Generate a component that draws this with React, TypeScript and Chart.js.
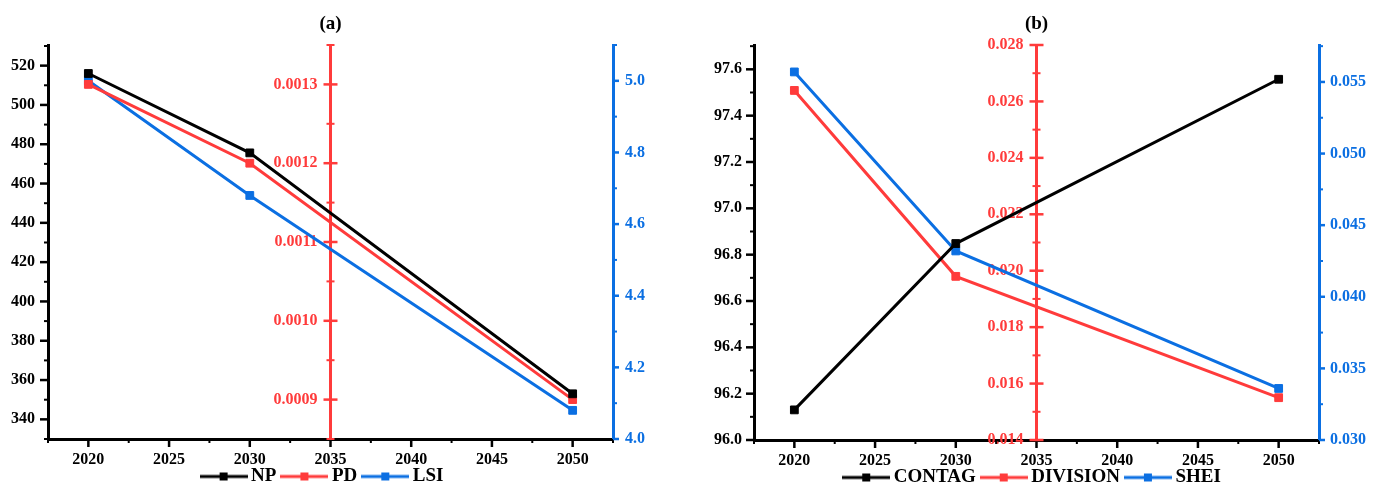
import React, { useEffect, useRef } from 'react';
import { Chart, registerables } from 'chart.js';

Chart.register(...registerables);

const FONT = "'Liberation Serif', 'Times New Roman', serif";
const BLACK = '#000000';
const RED = '#FF3B3B';
const BLUE = '#0B6FE2';

// ---------- data ----------
const years = [2020, 2030, 2050];
const xTicks = [2020, 2025, 2030, 2035, 2040, 2045, 2050];

// panel (a)
const npValues = [516, 475.6, 353];
const pdValues = [0.0013, 0.0012, 0.0009];
const lsiValues = [5.0, 4.68, 4.08];
const npTicks = [340, 360, 380, 400, 420, 440, 460, 480, 500, 520];
const pdTicks = [0.0009, 0.001, 0.0011, 0.0012, 0.0013];
const lsiTicks = [4.0, 4.2, 4.4, 4.6, 4.8, 5.0];

// panel (b)
const contagValues = [96.13, 96.848, 97.557];
const divisionValues = [0.02639, 0.0198, 0.0155];
const sheiValues = [0.0557, 0.0432, 0.0336];
const contagTicks = [96.0, 96.2, 96.4, 96.6, 96.8, 97.0, 97.2, 97.4, 97.6];
const divisionTicks = [0.014, 0.016, 0.018, 0.02, 0.022, 0.024, 0.026, 0.028];
const sheiTicks = [0.03, 0.035, 0.04, 0.045, 0.05, 0.055];

type AxisSpec = {
  min: number;
  max: number;
  ticks: number[];
  decimals: number;
  major: number;
  minor: number;
  padding: number;
};

type PanelSpec = {
  title: string;
  labels: string[];
  series: number[][];
  left: AxisSpec;
  red: AxisSpec;
  blue: AxisSpec;
  leftWidth: number;
  rightWidth: number;
  height: number;
  legendShift: number;
};

const panelA: PanelSpec = {
  title: '(a)',
  labels: ['NP', 'PD', 'LSI'],
  series: [npValues, pdValues, lsiValues],
  left: { min: 330, max: 530.5, ticks: npTicks, decimals: 0, major: 20, minor: 10, padding: 13 },
  red: { min: 0.00085, max: 0.00135, ticks: pdTicks, decimals: 4, major: 0.0001, minor: 0.00005, padding: 13 },
  blue: { min: 4.0, max: 5.1, ticks: lsiTicks, decimals: 1, major: 0.2, minor: 0.1, padding: 12 },
  leftWidth: 48,
  rightWidth: 79,
  height: 496,
  legendShift: -6,
};

const panelB: PanelSpec = {
  title: '(b)',
  labels: ['CONTAG', 'DIVISION', 'SHEI'],
  series: [contagValues, divisionValues, sheiValues],
  left: { min: 96.0, max: 97.705, ticks: contagTicks, decimals: 1, major: 0.2, minor: 0.1, padding: 12 },
  red: { min: 0.014, max: 0.028, ticks: divisionTicks, decimals: 3, major: 0.002, minor: 0.001, padding: 13 },
  blue: { min: 0.03, max: 0.05758, ticks: sheiTicks, decimals: 3, major: 0.005, minor: 0.0025, padding: 11 },
  leftWidth: 62,
  rightWidth: 65,
  height: 497,
  legendShift: -2,
};

const COLORS = [BLACK, RED, BLUE];
const AXIS_IDS = ['y', 'yRed', 'yBlue'];

function legendIcon(color: string) {
  const c = document.createElement('canvas');
  c.width = 48;
  c.height = 12;
  const g = c.getContext('2d')!;
  g.strokeStyle = color;
  g.lineWidth = 3;
  g.beginPath();
  g.moveTo(0, 6);
  g.lineTo(48, 6);
  g.stroke();
  g.fillStyle = color;
  g.fillRect(20, 2, 8, 8);
  return c;
}

type TickMarkSpec = {
  id: string;
  major: number;
  minor: number;
  majorLen: number;
  minorLen: number;
  mode: 'left' | 'right' | 'down' | 'cross';
  color: string;
  crossAt?: number;
};

function tickPlugin(specs: TickMarkSpec[]) {
  return {
    id: 'tickMarks',
    beforeDatasetsDraw(chart: any) {
      const ctx = chart.ctx;
      for (const s of specs) {
        const sc = chart.scales[s.id];
        if (!sc) continue;
        const ratio = Math.round(s.major / s.minor);
        const k0 = Math.ceil(sc.min / s.minor - 1e-6);
        const k1 = Math.floor(sc.max / s.minor + 1e-6);
        ctx.save();
        ctx.strokeStyle = s.color;
        for (let k = k0; k <= k1; k++) {
          const isMajor = k % ratio === 0;
          const len = isMajor ? s.majorLen : s.minorLen;
          ctx.lineWidth = isMajor ? 2.5 : 2;
          const p = sc.getPixelForValue(k * s.minor);
          ctx.beginPath();
          if (s.mode === 'down') {
            const y0 = sc.top;
            ctx.moveTo(p, y0);
            ctx.lineTo(p, y0 + len);
          } else if (s.mode === 'left') {
            const x0 = sc.right;
            ctx.moveTo(x0 - len, p);
            ctx.lineTo(x0, p);
          } else if (s.mode === 'right') {
            const x0 = sc.left;
            ctx.moveTo(x0, p);
            ctx.lineTo(x0 + len, p);
          } else {
            const x0 = chart.scales.x.getPixelForValue(s.crossAt);
            ctx.moveTo(x0 - len, p);
            ctx.lineTo(x0 + len, p);
          }
          ctx.stroke();
        }
        ctx.restore();
      }
    },
  };
}

function legendShiftPlugin(dx: number) {
  return {
    id: 'legendShift',
    afterLayout(chart: any) {
      const lg = chart.legend;
      if (lg && dx) {
        lg.left += dx;
        lg.right += dx;
      }
    },
  };
}

const tickFont = { family: FONT, size: 16, weight: 'bold' as const };

// shift the labels of an axis placed at a data value (Chart.js draws them flush with the axis line)
function shiftLabels(scale: any, dx: number) {
  if (scale.__shifted) return;
  scale.__shifted = true;
  const orig = scale._computeLabelItems.bind(scale);
  scale._computeLabelItems = (area: any) => {
    const items = orig(area);
    items.forEach((it: any) => {
      it.options.translation = [it.options.translation[0] - dx, it.options.translation[1]];
    });
    return items;
  };
}

function noLabelClip(scale: any) {
  if (scale.__noclip) return;
  scale.__noclip = true;
  scale._computeLabelArea = () => undefined;
}

function yAxis(a: AxisSpec, color: string, position: any, width?: number) {
  const floating = typeof position === 'object';
  return {
    type: 'linear',
    position,
    min: a.min,
    max: a.max,
    bounds: 'data',
    grid: { display: true, drawOnChartArea: false, drawTicks: false },
    border: { display: true, color, width: 3 },
    ticks: {
      color,
      font: tickFont,
      padding: a.padding,
      autoSkip: false,
      callback: (v: any) => Number(v).toFixed(a.decimals),
    },
    afterBuildTicks: (scale: any) => {
      scale.ticks = a.ticks.map((v) => ({ value: v }));
    },
    afterFit: (scale: any) => {
      if (width !== undefined) scale.width = width;
      if (floating) {
        shiftLabels(scale, a.padding);
        noLabelClip(scale);
      }
    },
  };
}

function buildConfig(p: PanelSpec): any {
  const datasets = p.series.map((vals, i) => ({
    label: p.labels[i],
    data: years.map((x, j) => ({ x, y: vals[j] })),
    yAxisID: AXIS_IDS[i],
    borderColor: COLORS[i],
    backgroundColor: COLORS[i],
    borderWidth: 3,
    pointStyle: 'rect',
    pointRadius: 5.5,
    pointBorderWidth: 1,
    pointBackgroundColor: COLORS[i],
    pointBorderColor: COLORS[i],
    tension: 0,
  }));

  const marks: TickMarkSpec[] = [
    { id: 'x', major: 5, minor: 2.5, majorLen: 8, minorLen: 4, mode: 'down', color: BLACK },
    { id: 'y', major: p.left.major, minor: p.left.minor, majorLen: 8, minorLen: 4, mode: 'left', color: BLACK },
    { id: 'yRed', major: p.red.major, minor: p.red.minor, majorLen: 7, minorLen: 4, mode: 'cross', color: RED, crossAt: 2035 },
    { id: 'yBlue', major: p.blue.major, minor: p.blue.minor, majorLen: 6, minorLen: 4, mode: 'right', color: BLUE },
  ];

  return {
    type: 'line',
    data: { datasets },
    plugins: [tickPlugin(marks), legendShiftPlugin(p.legendShift)],
    options: {
      responsive: false,
      animation: false,
      devicePixelRatio: 1,
      layout: { padding: 0 },
      scales: {
        x: {
          type: 'linear',
          position: 'bottom',
          min: 2017.5,
          max: 2052.5,
          bounds: 'data',
          grid: { display: true, drawOnChartArea: false, drawTicks: false },
          border: { display: true, color: BLACK, width: 3 },
          ticks: {
            color: BLACK,
            font: tickFont,
            padding: 11,
            autoSkip: false,
            maxRotation: 0,
            callback: (v: any) => String(Math.round(Number(v))),
          },
          afterBuildTicks: (scale: any) => {
            scale.ticks = xTicks.map((v) => ({ value: v }));
          },
          afterFit: (scale: any) => {
            scale.height = 18;
            noLabelClip(scale);
          },
        },
        y: yAxis(p.left, BLACK, 'left', p.leftWidth),
        yRed: yAxis(p.red, RED, { x: 2035 }),
        yBlue: yAxis(p.blue, BLUE, 'right', p.rightWidth),
      },
      plugins: {
        tooltip: { enabled: false },
        title: {
          display: true,
          text: p.title,
          fullSize: false,
          color: BLACK,
          font: { family: FONT, size: 19, weight: 'bold' },
          padding: { top: 13, bottom: 9.2 },
        },
        legend: {
          display: true,
          position: 'bottom',
          fullSize: false,
          labels: {
            usePointStyle: true,
            pointStyleWidth: 36,
            padding: 10,
            color: BLACK,
            font: { family: FONT, size: 19, weight: 'bold' },
            generateLabels: (chart: any) =>
              chart.data.datasets.map((ds: any, i: number) => ({
                text: ds.label,
                pointStyle: legendIcon(ds.borderColor),
                fillStyle: ds.borderColor,
                strokeStyle: ds.borderColor,
                lineWidth: 0,
                hidden: false,
                datasetIndex: i,
                fontColor: BLACK,
              })),
          },
        },
      },
    },
  };
}

function Panel({ spec, left }: { spec: PanelSpec; left: number }) {
  const ref = useRef<HTMLCanvasElement>(null);
  useEffect(() => {
    const chart = new Chart(ref.current as HTMLCanvasElement, buildConfig(spec));
    return () => chart.destroy();
  }, [spec]);
  return (
    <canvas
      ref={ref}
      width={692}
      height={spec.height}
      style={{ position: 'absolute', left, top: 0, width: 692, height: spec.height }}
    />
  );
}

export default function App() {
  return (
    <div
      style={{
        position: 'fixed',
        left: 0,
        top: 0,
        width: 1384,
        height: 489,
        overflow: 'hidden',
        background: '#ffffff',
      }}
    >
      <Panel spec={panelA} left={0} />
      <Panel spec={panelB} left={692} />
    </div>
  );
}
